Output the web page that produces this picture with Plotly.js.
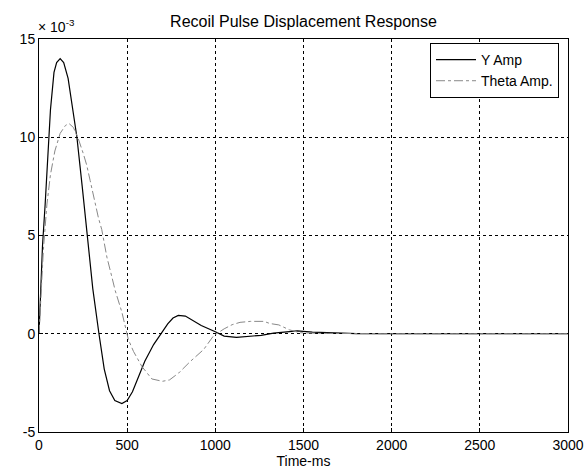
<!DOCTYPE html>
<html>
<head>
<meta charset="utf-8">
<script src="https://cdn.plot.ly/plotly-3.0.1.min.js"></script>
<style>html,body{margin:0;padding:0;background:#fff;}#chart{width:587px;height:472px;}</style>
</head>
<body>
<div id="chart"></div>
<script>
// Time in ms
const yTime = [0, 10, 20, 35, 50, 65, 85, 100, 120, 140, 165, 185, 215, 245, 275, 305, 340, 370, 400, 430, 470, 500, 530, 560, 600, 650, 690, 730, 760, 790, 830, 870, 920, 1000, 1050, 1120, 1200, 1260, 1330, 1420, 1465, 1550, 1700, 1800, 2000, 2500, 3000];
// Y Amp, in units of 1e-3
const yAmp = [0, 2.5, 4.5, 6.6, 9.0, 11.4, 13.3, 13.8, 14.0, 13.8, 13.0, 11.7, 10.0, 7.5, 4.8, 2.3, 0, -1.8, -2.9, -3.4, -3.55, -3.4, -2.95, -2.3, -1.4, -0.55, 0, 0.5, 0.8, 0.93, 0.9, 0.7, 0.42, 0.1, -0.12, -0.18, -0.14, -0.08, 0.03, 0.1, 0.15, 0.08, 0.03, 0.01, 0, 0, 0];
const thTime = [0, 10, 25, 45, 65, 90, 120, 150, 170, 195, 220, 250, 270, 290, 318, 337, 356, 385, 413, 432, 470, 490, 507, 536, 583, 640, 700, 740, 792, 858, 934, 990, 1050, 1095, 1140, 1200, 1275, 1310, 1360, 1420, 1480, 1600, 1800, 2000, 2500, 3000];
// Theta Amp, in units of 1e-3
const thAmp = [0, 2.0, 4.3, 6.6, 8.1, 9.3, 10.2, 10.6, 10.7, 10.5, 10.0, 9.2, 8.6, 7.8, 6.6, 5.9, 5.3, 3.9, 2.9, 2.2, 1.1, 0.35, -0.3, -0.9, -1.66, -2.3, -2.42, -2.35, -2.0, -1.41, -0.8, -0.1, 0.25, 0.46, 0.58, 0.63, 0.63, 0.52, 0.45, 0.2, 0.05, 0.02, 0, 0, 0, 0];

const xTicks = [0, 500, 1000, 1500, 2000, 2500, 3000];
const yTicks = [-5, 0, 5, 10, 15];

const font = 'Liberation Sans, Arial, sans-serif';

const traces = [
  {x: yTime, y: yAmp, type: 'scatter', mode: 'lines', name: 'Y Amp',
   line: {color: '#000000', width: 1.2}},
  {x: thTime, y: thAmp, type: 'scatter', mode: 'lines', name: 'Theta Amp.',
   line: {color: '#888888', width: 1, dash: 'dashdot'}}
];

const layout = {
  width: 587, height: 472,
  margin: {l: 39, r: 19, t: 39, b: 40},
  paper_bgcolor: '#ffffff', plot_bgcolor: '#ffffff',
  font: {family: font, size: 14, color: '#000'},
  showlegend: true,
  title: {text: 'Recoil Pulse Displacement Response', font: {family: font, size: 16, color: '#000'},
          x: 0.517, xanchor: 'center', y: 0.955, yanchor: 'middle'},
  xaxis: {
    range: [0, 3000], tickvals: xTicks, ticktext: xTicks.map(String),
    showgrid: true, gridcolor: '#000', griddash: 'dot', gridwidth: 1,
    zeroline: false, showline: true, linecolor: '#000', linewidth: 1, mirror: true,
    ticks: 'inside', ticklen: 4, tickcolor: '#000',
    tickfont: {family: font, size: 14},
    title: {text: 'Time-ms', font: {family: font, size: 14}, standoff: 1}
  },
  yaxis: {
    range: [-5, 15], tickvals: yTicks, ticktext: yTicks.map(String),
    showgrid: true, gridcolor: '#000', griddash: 'dot', gridwidth: 1,
    zeroline: false, showline: true, linecolor: '#000', linewidth: 1, mirror: true,
    ticks: 'inside', ticklen: 4, tickcolor: '#000',
    tickfont: {family: font, size: 14}
  },
  legend: {
    x: 0.983, xanchor: 'right', y: 0.99, yanchor: 'top',
    bgcolor: '#ffffff', bordercolor: '#000', borderwidth: 1,
    font: {family: font, size: 14}, tracegroupgap: 0, itemwidth: 40
  },
  annotations: [
    {text: '× 10<sup>-3</sup>', xref: 'paper', yref: 'paper', x: -0.005, y: 1.005,
     xanchor: 'left', yanchor: 'bottom', showarrow: false, font: {family: font, size: 14}}
  ]
};

Plotly.newPlot('chart', traces, layout, {displayModeBar: false, staticPlot: true});
</script>
</body>
</html>
